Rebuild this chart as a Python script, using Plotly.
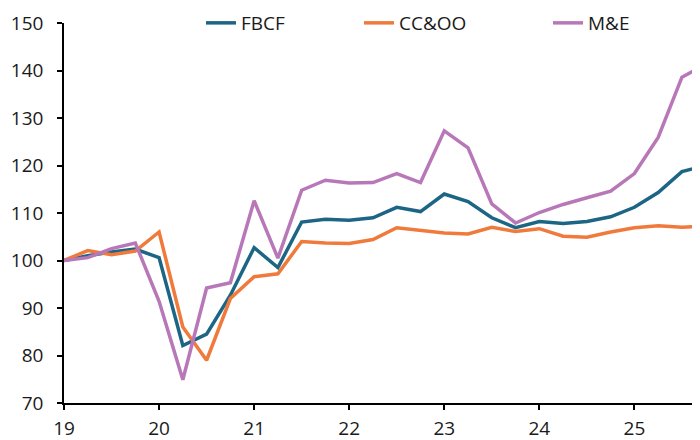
import plotly.graph_objects as go

quarters = [19.0, 19.25, 19.5, 19.75, 20.0, 20.25, 20.5, 20.75,
            21.0, 21.25, 21.5, 21.75, 22.0, 22.25, 22.5, 22.75,
            23.0, 23.25, 23.5, 23.75, 24.0, 24.25, 24.5, 24.75,
            25.0, 25.25, 25.5, 25.75]

fbcf = [100.0, 101.0, 101.8, 102.4, 100.6, 82.1, 84.5, 92.7,
        102.7, 98.5, 108.1, 108.7, 108.5, 109.0, 111.2, 110.3,
        114.0, 112.4, 109.0, 106.9, 108.2, 107.8, 108.2, 109.2,
        111.2, 114.3, 118.7, 120.0]

ccoo = [100.0, 102.1, 101.2, 102.0, 106.0, 86.0, 79.0, 92.0,
        96.6, 97.2, 104.0, 103.7, 103.6, 104.4, 106.9, 106.3,
        105.8, 105.6, 107.0, 106.1, 106.7, 105.1, 104.9, 106.0,
        106.9, 107.3, 107.0, 107.3]

mye = [100.0, 100.6, 102.5, 103.7, 91.4, 74.9, 94.2, 95.3,
       112.6, 100.5, 114.8, 116.9, 116.3, 116.4, 118.3, 116.4,
       127.3, 123.7, 111.9, 107.9, 110.1, 111.8, 113.2, 114.6,
       118.3, 125.9, 138.6, 141.3]

series_names = ["FBCF", "CC&OO", "M&E"]
colors = ["#1d6584", "#f07a3c", "#b878b8"]

x_ticks = [19, 20, 21, 22, 23, 24, 25]
y_ticks = [70, 80, 90, 100, 110, 120, 130, 140, 150]

font_family = "Open Sans, Noto Sans, sans-serif"
fig = go.Figure()
legends = ["legend", "legend2", "legend3"]
for name, vals, col, lg in zip(series_names, [fbcf, ccoo, mye], colors, legends):
    fig.add_trace(go.Scatter(
        x=quarters, y=vals, name=name, mode="lines", showlegend=True,
        line=dict(color=col, width=3.5), legend=lg,
    ))

leg_common = dict(orientation="h", yanchor="middle", y=1.0, xanchor="left",
                  bgcolor="rgba(0,0,0,0)", font=dict(family=font_family, size=19, color="#1a1a1a"))

# the page body adds an 8px offset; margins compensate for it
fig.update_layout(
    width=700, height=440,
    showlegend=True,
    margin=dict(l=56, r=8, t=15, b=45, autoexpand=False),
    paper_bgcolor="white", plot_bgcolor="white",
    font=dict(family=font_family, size=19, color="#1a1a1a"),
    legend=dict(x=0.2154, **leg_common),
    legend2=dict(x=0.4638, **leg_common),
    legend3=dict(x=0.761, **leg_common),
    xaxis=dict(range=[19, 25.69], tickvals=x_ticks, ticktext=[str(t) for t in x_ticks],
               automargin=False, ticklabelstandoff=2,
               showgrid=False, zeroline=False, showline=True, linecolor="black", linewidth=1.5,
               ticks="outside", ticklen=5, tickwidth=1.5, tickcolor="black"),
    yaxis=dict(range=[70, 150], tickvals=y_ticks, showgrid=False, zeroline=False,
               automargin=False, ticklabelstandoff=10,
               showline=True, linecolor="black", linewidth=1.5,
               ticks="outside", ticklen=5, tickwidth=1.5, tickcolor="black"),
)

fig.write_html("out.html")
